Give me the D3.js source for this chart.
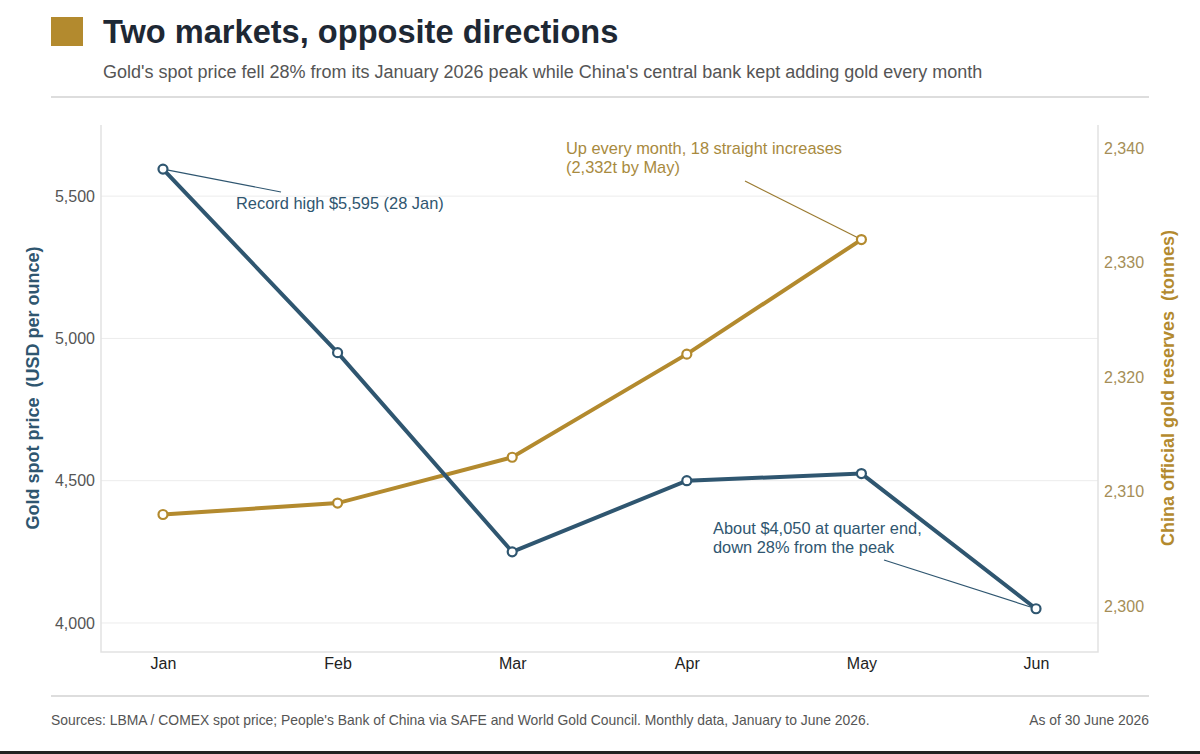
<!DOCTYPE html>
<html>
<head>
<meta charset="utf-8">
<script src="https://cdn.jsdelivr.net/npm/d3@7"></script>
<style>
  body { margin: 0; background: #fff; }
  svg { display: block; font-family: "Liberation Sans", Arial, sans-serif; }
</style>
</head>
<body>
<div id="chart"></div>
<script>
// Monthly data, January to June 2026
var months      = ["Jan", "Feb", "Mar", "Apr", "May", "Jun"];
var goldPrice   = [5595, 4950, 4250, 4500, 4525, 4050];
var chinaMonths = ["Jan", "Feb", "Mar", "Apr", "May"];
var chinaTonnes = [2308, 2309, 2313, 2322, 2332];
var priceTicks  = [4000, 4500, 5000, 5500];
var tonneTicks  = [2300, 2310, 2320, 2330, 2340];

var BLUE = "#2f5670";
var GOLD = "#b38a2e";

var width = 1200, height = 754;
var plot = {left: 101, right: 1098, top: 125, bottom: 652};

var svg = d3.select("#chart").append("svg")
  .attr("width", width)
  .attr("height", height);

var x = d3.scalePoint()
  .domain(months)
  .range([plot.left, plot.right])
  .padding(0.355);

var yL = d3.scaleLinear()
  .domain([3898, 5750])
  .range([plot.bottom, plot.top]);

var yR = d3.scaleLinear()
  .domain([2296, 2342])
  .range([plot.bottom, plot.top]);

var fmt = d3.format(",");

// header
svg.append("rect")
  .attr("x", 51).attr("y", 17).attr("width", 32).attr("height", 29)
  .attr("fill", GOLD);

svg.append("text")
  .attr("x", 103).attr("y", 43)
  .attr("font-size", 32.6).attr("font-weight", "bold")
  .attr("fill", "#1e2834")
  .text("Two markets, opposite directions");

svg.append("text")
  .attr("x", 103).attr("y", 78)
  .attr("font-size", 18).attr("fill", "#555")
  .text("Gold's spot price fell 28% from its January 2026 peak while China's central bank kept adding gold every month");

svg.append("line")
  .attr("x1", 51).attr("x2", 1149).attr("y1", 97).attr("y2", 97)
  .attr("stroke", "#ddd").attr("stroke-width", 2);

// gridlines for the left axis
svg.append("g")
  .selectAll("line")
  .data(priceTicks)
  .enter().append("line")
  .attr("x1", plot.left).attr("x2", plot.right)
  .attr("y1", function(d) { return yL(d); })
  .attr("y2", function(d) { return yL(d); })
  .attr("stroke", "#ececec");

// plot frame (left, bottom, right)
svg.append("path")
  .attr("d", "M" + plot.left + "," + plot.top + "V" + plot.bottom +
             "H" + plot.right + "V" + plot.top)
  .attr("fill", "none").attr("stroke", "#e2e2e2").attr("stroke-width", 1.5);

// axes
var leftAxis = svg.append("g")
  .attr("transform", "translate(" + plot.left + ",0)")
  .call(d3.axisLeft(yL).tickValues(priceTicks).tickFormat(fmt).tickSize(0).tickPadding(6));

var rightAxis = svg.append("g")
  .attr("transform", "translate(" + plot.right + ",0)")
  .call(d3.axisRight(yR).tickValues(tonneTicks).tickFormat(fmt).tickSize(0).tickPadding(6));

var bottomAxis = svg.append("g")
  .attr("transform", "translate(0," + plot.bottom + ")")
  .call(d3.axisBottom(x).tickSize(0).tickPadding(6));

[leftAxis, rightAxis, bottomAxis].forEach(function(a) {
  a.select(".domain").remove();
  a.selectAll("text").attr("font-family", null).attr("font-size", 16);
});
leftAxis.selectAll("text").attr("fill", "#555");
rightAxis.selectAll("text").attr("fill", "#a58e57");
bottomAxis.selectAll("text").attr("fill", "#222");

// axis titles (double space kept on purpose)
svg.append("text")
  .attr("transform", "translate(39,388) rotate(-90)")
  .attr("text-anchor", "middle")
  .style("white-space", "pre")
  .attr("font-size", 18).attr("font-weight", "bold")
  .attr("fill", BLUE)
  .text("Gold spot price  (USD per ounce)");

svg.append("text")
  .attr("transform", "translate(1174,388) rotate(-90)")
  .attr("text-anchor", "middle")
  .style("white-space", "pre")
  .attr("font-size", 18).attr("font-weight", "bold")
  .attr("fill", GOLD)
  .text("China official gold reserves  (tonnes)");

// leader lines for annotations
function leader(x1, y1, x2, y2, colour) {
  svg.append("line")
    .attr("x1", x1).attr("y1", y1).attr("x2", x2).attr("y2", y2)
    .attr("stroke", colour).attr("stroke-width", 1.2);
}
leader(x("Jan"), yL(goldPrice[0]), 281, 192, BLUE);
leader(745, 181, x("May"), yR(chinaTonnes[4]), "#9a7a30");
leader(884, 560, x("Jun"), yL(goldPrice[5]), BLUE);

// series lines
var lineChina = d3.line()
  .x(function(d, i) { return x(chinaMonths[i]); })
  .y(function(d) { return yR(d); });

var linePrice = d3.line()
  .x(function(d, i) { return x(months[i]); })
  .y(function(d) { return yL(d); });

svg.append("path")
  .datum(chinaTonnes)
  .attr("d", lineChina)
  .attr("fill", "none").attr("stroke", GOLD).attr("stroke-width", 4);

svg.append("path")
  .datum(goldPrice)
  .attr("d", linePrice)
  .attr("fill", "none").attr("stroke", BLUE).attr("stroke-width", 4);

// markers
svg.append("g").selectAll("circle")
  .data(chinaTonnes)
  .enter().append("circle")
  .attr("cx", function(d, i) { return x(chinaMonths[i]); })
  .attr("cy", function(d) { return yR(d); })
  .attr("r", 4.5)
  .attr("fill", "#fff").attr("stroke", GOLD).attr("stroke-width", 2.2);

svg.append("g").selectAll("circle")
  .data(goldPrice)
  .enter().append("circle")
  .attr("cx", function(d, i) { return x(months[i]); })
  .attr("cy", function(d) { return yL(d); })
  .attr("r", 4.5)
  .attr("fill", "#fff").attr("stroke", BLUE).attr("stroke-width", 2.2);

// annotation texts
function note(xPos, yPos, lines, colour) {
  var t = svg.append("text")
    .attr("x", xPos).attr("y", yPos)
    .attr("font-size", 16.4).attr("fill", colour);
  lines.forEach(function(l, i) {
    t.append("tspan").attr("x", xPos).attr("dy", i ? 19 : 0).text(l);
  });
}
note(236, 209, ["Record high $5,595 (28 Jan)"], BLUE);
note(566, 154, ["Up every month, 18 straight increases", "(2,332t by May)"], "#a88a3e");
note(713, 534, ["About $4,050 at quarter end,", "down 28% from the peak"], BLUE);

// footer
svg.append("line")
  .attr("x1", 51).attr("x2", 1149).attr("y1", 696).attr("y2", 696)
  .attr("stroke", "#ddd").attr("stroke-width", 2);

svg.append("text")
  .attr("x", 51).attr("y", 725)
  .attr("font-size", 13.9).attr("fill", "#555")
  .text("Sources: LBMA / COMEX spot price; People's Bank of China via SAFE and World Gold Council. Monthly data, January to June 2026.");

svg.append("text")
  .attr("x", 1149).attr("y", 725)
  .attr("text-anchor", "end")
  .attr("font-size", 13.9).attr("fill", "#555")
  .text("As of 30 June 2026");

svg.append("rect")
  .attr("x", 0).attr("y", 751).attr("width", width).attr("height", 3)
  .attr("fill", "#222");
</script>
</body>
</html>
